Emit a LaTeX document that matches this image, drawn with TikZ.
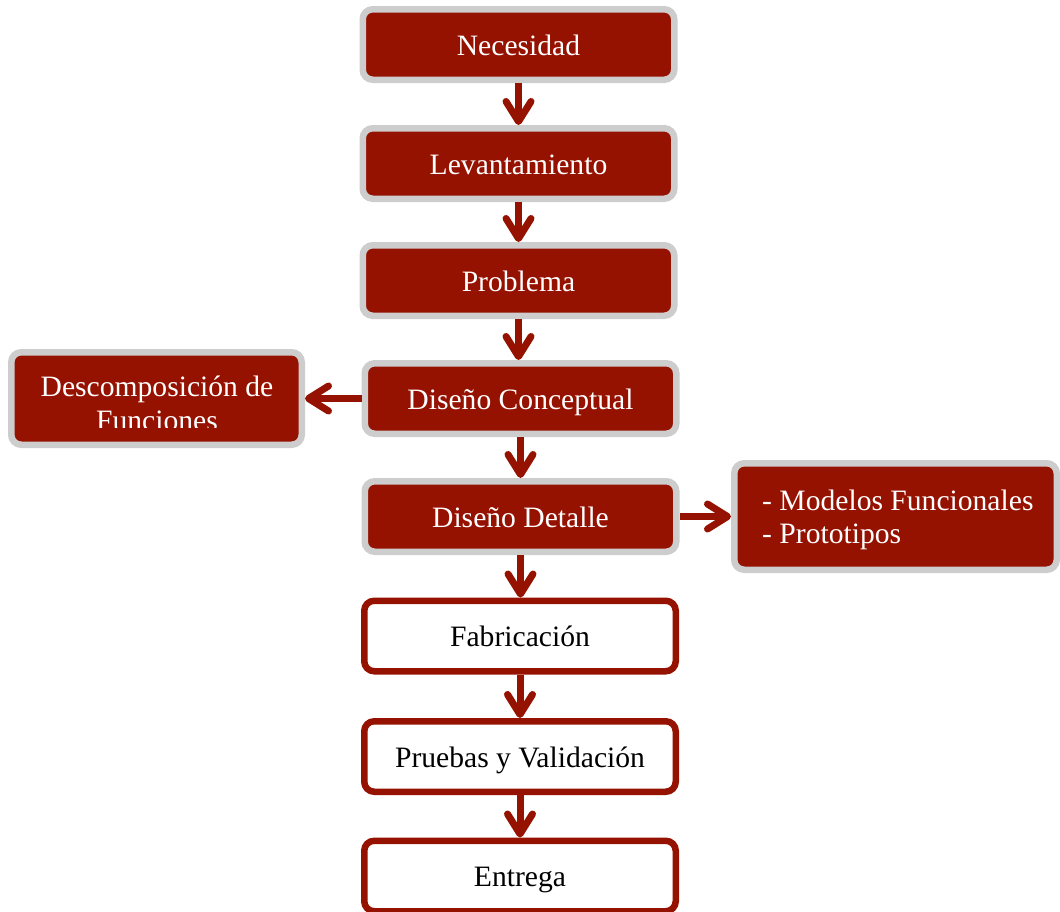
\documentclass[tikz,border=0pt]{standalone}
\usepackage{fontspec}
\setmainfont{Liberation Serif}
\usetikzlibrary{arrows.meta}
\definecolor{boxred}{RGB}{149,17,0}
\definecolor{boxgray}{RGB}{205,205,205}
\begin{document}
\begin{tikzpicture}[x=1pt,y=-1pt,
  every node/.style={font=\fontsize{29.6}{33}\selectfont},
  redbox/.style={rectangle, rounded corners=10pt, fill=boxred, draw=boxgray, line width=6.5pt, outer sep=3.25pt, inner sep=0pt, text=white, text height=21pt, text depth=0pt},
  whitebox/.style={rectangle, rounded corners=10pt, fill=white, draw=boxred, line width=6.5pt, outer sep=3.25pt, inner sep=0pt, text=black, text height=21pt, text depth=0pt},
  mainsize/.style={minimum width=311.5pt, minimum height=70.5pt},
  flow/.style={draw=boxred, line width=7pt, -{Straight Barb[length=20pt,width=25pt,round]}},
  txt/.style={inner sep=0pt, text=white}]
\useasboundingbox (0,0) rectangle (1060,911);
% main column
\node[redbox, mainsize] (nec) at (518.5,44.5) {Necesidad};
\node[redbox, mainsize] (lev) at (518.5,163.5) {Levantamiento};
\node[redbox, mainsize] (pro) at (518.5,280.5) {Problema};
\node[redbox, mainsize] (con) at (520.5,398.5) {Diseño Conceptual};
\node[redbox, mainsize] (det) at (520.5,516.5) {Diseño Detalle};
\node[whitebox, mainsize] (fab) at (520,636) {Fabricación};
\node[whitebox, mainsize] (pru) at (520,756.5) {Pruebas y Validación};
\node[whitebox, mainsize] (ent) at (520,876) {Entrega};
% side boxes
\node[redbox, minimum width=290.5pt, minimum height=92.5pt] (desc) at (156.5,398.5) {};
\begin{scope}
  \clip (12,352) rectangle (302,427);
  \node[txt, anchor=base] (desc1) at (157,396.5) {Descomposición de};
  \node[txt, anchor=base] (desc2) at (157,430) {Funciones};
\end{scope}
\node[redbox, minimum width=322.5pt, minimum height=106.5pt] (mod) at (895.5,516.5) {};
\node[txt, anchor=base west] (mod1) at (762,510) {- Modelos Funcionales};
\node[txt, anchor=base west] (mod2) at (762,543) {- Prototipos};
% connectors
\draw[flow] (nec.south) -- (nec.south |- lev.north);
\draw[flow] (lev.south) -- (lev.south |- pro.north);
\draw[flow] (pro.south) -- (pro.south |- con.north);
\draw[flow] (con.south) -- (con.south |- det.north);
\draw[flow] (det.south) -- (det.south |- fab.north);
\draw[flow] (fab.south) -- (fab.south |- pru.north);
\draw[flow] (pru.south) -- (pru.south |- ent.north);
\draw[flow] (con.west) -- (con.west -| desc.east);
\draw[flow] (det.east) -- (det.east -| mod.west);
\end{tikzpicture}
\end{document}
